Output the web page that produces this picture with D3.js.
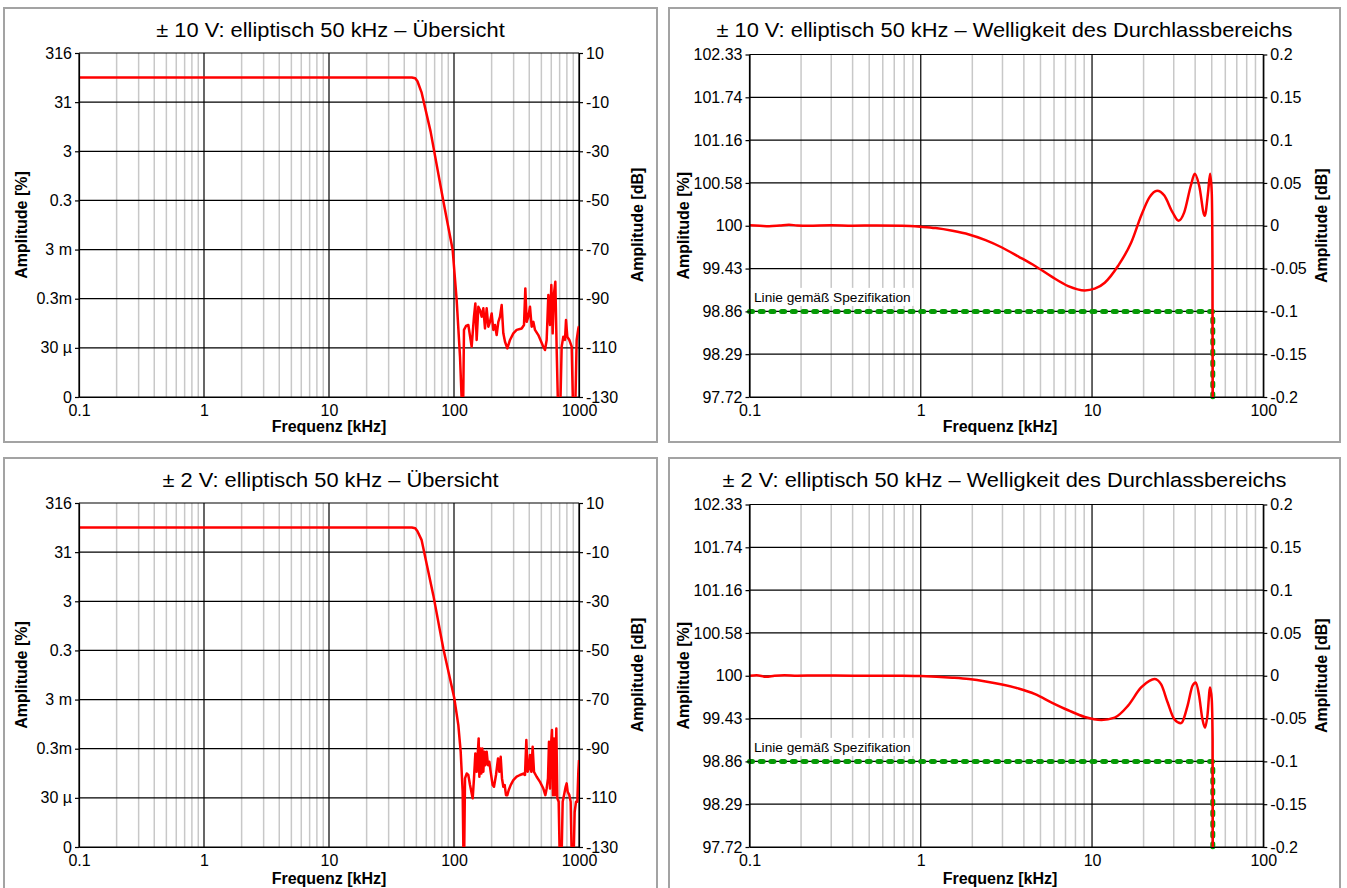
<!DOCTYPE html>
<html>
<head>
<meta charset="utf-8">
<script src="https://cdn.jsdelivr.net/npm/d3@7"></script>
<style>
  body { margin: 0; background: #fff; }
  svg { display: block; font-family: "Liberation Sans", Arial, sans-serif; }
</style>
</head>
<body>
<script>
// tick labels
const overviewFreqTicks = [0.1, 1, 10, 100, 1000]
const rippleFreqTicks = [0.1, 1, 10, 100]
const overviewDbTicks = [10, -10, -30, -50, -70, -90, -110, -130]
const overviewPctLabels = ['316', '31', '3', '0.3', '3 m', '0.3m', '30 µ', '0']
const rippleDbTicks = [0.2, 0.15, 0.1, 0.05, 0, -0.05, -0.1, -0.15, -0.2]
const ripplePctLabels = ['102.33', '101.74', '101.16', '100.58', '100', '99.43', '98.86', '98.29', '97.72']

// ±10 V overview (kHz / dB)
const freqOverview10 = [0.1, 46, 49, 51, 55, 65, 82, 97.6, 105, 111.7, 117, 118, 120.2, 124.7, 130.2, 138.4,
  144.5, 148.2, 151.8, 156.6, 161.4, 166.5, 171.7, 177, 182.5, 188.2, 194.1, 200.1, 206.4, 212.8, 219.4,
  226.3, 233.3, 240.6, 248.1, 255.9, 267.1, 280.5, 298.3, 317.1, 347.8, 363.1, 372.1, 381.4, 393.3, 405.5,
  418.1, 431.2, 444.6, 472.8, 518.4, 534.6, 551.2, 568.5, 586.1, 600.7, 615.6, 631, 646.7, 662.9, 683.6,
  704.7, 726.6, 749.3, 772.7, 787, 806.6, 837, 873.7, 901, 929, 958, 987.9, 1000]
const dbOverview10 = [0, 0, -0.3, -1.5, -6, -22, -50, -70.2, -90.5, -113.6, -140, -140, -102.7, -101.1, -100.7, -109.5,
  -97.3, -91.9, -106.8, -93.3, -94.6, -97.3, -93.9, -102.1, -93.9, -101.4, -99.4, -96, -102.7, -100.7, -104.8,
  -99.4, -97.3, -92.6, -104.1, -107.5, -110.2, -106.8, -104.1, -102.7, -102.1, -100.7, -85.8, -99.4, -97.3, -93.3,
  -101.4, -99.4, -102.7, -104.8, -109.5, -110.9, -106.8, -88.5, -100.7, -84.4, -104.1, -87.8, -83.1, -110.9, -140,
  -140, -109.5, -105.5, -106.8, -98.7, -105.5, -106.8, -109.5, -140, -140, -106.8, -102.1, -101.1]

// ±2 V overview (kHz / dB)
const freqOverview2 = [0.1, 46, 49, 51, 55, 68.3, 82.1, 100.6, 108.3, 113.1, 117.3, 119.5, 120.2, 122.5, 126.3,
  130.2, 134.3, 141.1, 144.5, 148.2, 151.8, 154.7, 157.5, 159.5, 162.4, 165.5, 168.5, 171.7, 174.9, 178.1,
  182.5, 187.1, 191.7, 196.5, 203.8, 208.9, 216.8, 224.9, 230.5, 236.3, 242.1, 248.1, 254.3, 260.6, 267.1,
  273.7, 284, 298.3, 317.1, 337.3, 358.6, 369.8, 379, 388.3, 398.1, 405.5, 415.6, 425.8, 436.5, 458.4, 487.5,
  518.4, 537.9, 551.2, 564.9, 575.4, 586.1, 597, 608.1, 619.4, 631, 642.7, 658.7, 670.9, 687.6, 704.7, 722.2,
  740.2, 758.6, 782.2, 796.8, 811.6, 837, 857.7, 879, 901, 923.3, 946.2, 969.8, 987.9, 1000]
const dbOverview2 = [0, 0, -0.3, -1.5, -5, -27.5, -49.2, -69.5, -80.4, -91.2, -107.5, -140, -140, -102.1, -100.1,
  -100.7, -104.8, -110.2, -102.1, -91.9, -99.4, -92.6, -85.8, -101.4, -89.9, -100.1, -89.9, -99.4, -91.2, -96.7,
  -91.2, -96.7, -95.3, -99.4, -104.8, -105.5, -100.7, -94, -99.4, -93.3, -102.1, -105.5, -104.8, -108.9, -108.9,
  -106.9, -104.8, -102.8, -101.4, -100.7, -100.1, -100.7, -86.5, -99.4, -98, -92.6, -99.4, -89.2, -99.4, -101.4, -103.5,
  -106.2, -108.9, -106.2, -102.1, -87.2, -106.2, -88.5, -82.4, -108.9, -85.8, -108.9, -81.8, -110.2, -111.6, -140, -140,
  -111.6, -108.9, -105.5, -104.1, -107.5, -108.9, -111.6, -140, -140, -115.7, -111.6, -111.6, -99.4, -94.6]

// ±10 V passband ripple (kHz / dB)
const freqRipple10 = [0.1, 0.115, 0.13, 0.15, 0.17, 0.19, 0.22, 0.3, 0.4, 0.55, 0.78, 1, 1.22, 1.53, 1.91, 2.39,
  2.98, 3.72, 4.65, 5.81, 7.26, 9.07, 10.37, 11.86, 14.17, 16.93, 19.35, 21.63, 23.97, 26.43, 29.54, 32.01,
  34.53, 37.76, 39.82, 42.2, 45.5, 47.6, 48.9, 50, 50.5, 50.8]
const dbRipple10 = [0.0005, 0, -0.0005, 0.0003, 0.0012, 0.0003, 0, 0.0005, 0.0001, 0.0003, 0, -0.0012, -0.0027, -0.0059,
  -0.0102, -0.0168, -0.0254, -0.036, -0.047, -0.0594, -0.0704, -0.0755, -0.0735, -0.0665, -0.047, -0.0196, 0.0117,
  0.0332, 0.041, 0.0352, 0.0156, 0.0059, 0.0156, 0.047, 0.0606, 0.047, 0.0117, 0.0391, 0.0606, 0.0391, -0.039, -0.3]

// ±2 V passband ripple (kHz / dB)
const freqRipple2 = [0.1, 0.11, 0.125, 0.14, 0.16, 0.19, 0.25, 0.4, 0.78, 1, 1.53, 1.91, 2.39, 2.98, 3.72, 4.65,
  5.81, 7.26, 9.07, 11.34, 13.55, 16.19, 19.35, 21.63, 23.13, 25.28, 27.64, 30.22, 33.03, 36.11, 38.6, 40.36,
  42.2, 44.12, 45.72, 47.17, 48.9, 50, 50.6, 50.8]
const dbRipple2 = [0, 0.0006, -0.0012, 0, 0.0006, 0, 0.0003, 0, 0, -0.0004, -0.0023, -0.0039, -0.0066, -0.0102,
  -0.0149, -0.0215, -0.0313, -0.0403, -0.0481, -0.0516, -0.0489, -0.0352, -0.0137, -0.0059, -0.0039, -0.0098,
  -0.0313, -0.0508, -0.0555, -0.0352, -0.0117, -0.0078, -0.0235, -0.0508, -0.0606, -0.0469, -0.0137, -0.0274,
  -0.0743, -0.3]

// specification line
const specFreq = [0.1, 50.7, 50.7]
const specDb = [-0.1, -0.1, -0.2]
const specLabel = 'Linie gemäß Spezifikation'

const panels = [
  { title: '± 10 V: elliptisch 50 kHz – Übersicht', box: [4, 8, 653, 434], plot: [79, 53, 579, 397],
    xMax: 1000, xTicks: overviewFreqTicks, dbTicks: overviewDbTicks, pct: overviewPctLabels,
    freq: freqOverview10, db: dbOverview10, spec: false, yLabelX: 21, xLabelX: 329, xLabelDy: 35 },
  { title: '± 10 V: elliptisch 50 kHz – Welligkeit des Durchlassbereichs', box: [669, 8, 671, 434], plot: [749.5, 54.5, 1263.3, 397],
    xMax: 100, xTicks: rippleFreqTicks, dbTicks: rippleDbTicks, pct: ripplePctLabels,
    freq: freqRipple10, db: dbRipple10, spec: true, yLabelX: 683, xLabelX: 1000, xLabelDy: 35 },
  { title: '± 2 V: elliptisch 50 kHz – Übersicht', box: [4, 458, 653, 434], plot: [79, 503, 579, 847],
    xMax: 1000, xTicks: overviewFreqTicks, dbTicks: overviewDbTicks, pct: overviewPctLabels,
    freq: freqOverview2, db: dbOverview2, spec: false, yLabelX: 21, xLabelX: 329, xLabelDy: 37 },
  { title: '± 2 V: elliptisch 50 kHz – Welligkeit des Durchlassbereichs', box: [669, 458, 671, 434], plot: [749.5, 504.5, 1263.3, 847],
    xMax: 100, xTicks: rippleFreqTicks, dbTicks: rippleDbTicks, pct: ripplePctLabels,
    freq: freqRipple2, db: dbRipple2, spec: true, yLabelX: 683, xLabelX: 1000, xLabelDy: 37 }
]

const width = 1347
const height = 888
const font = '"Liberation Sans", Arial, sans-serif'

const svg = d3.select('body').append('svg')
  .attr('width', width)
  .attr('height', height)

function isDecade(d) {
  const l = Math.log10(d)
  return Math.abs(l - Math.round(l)) < 1e-6
}

function drawPanel(p, idx) {
  const [bx, by, bw, bh] = p.box
  const [x0, y0, x1, y1] = p.plot
  const g = svg.append('g')

  g.append('rect')
    .attr('x', bx).attr('y', by).attr('width', bw).attr('height', bh)
    .attr('fill', '#fff').attr('stroke', '#a3a3a3').attr('stroke-width', 2)

  const x = d3.scaleLog().domain([0.1, p.xMax]).range([x0, x1])
  const y = d3.scaleLinear().domain([p.dbTicks[p.dbTicks.length - 1], p.dbTicks[0]]).range([y1, y0])

  // minor vertical grid
  g.append('g').selectAll('line')
    .data(x.ticks().filter(d => !isDecade(d)))
    .join('line')
    .attr('x1', d => x(d)).attr('x2', d => x(d))
    .attr('y1', y0).attr('y2', y1)
    .attr('stroke', '#c8c8c8').attr('stroke-width', 1.5)

  // major grid
  g.append('g').selectAll('line')
    .data(p.xTicks)
    .join('line')
    .attr('x1', d => x(d)).attr('x2', d => x(d))
    .attr('y1', y0).attr('y2', y1)
    .attr('stroke', '#000').attr('stroke-width', 1.2)
  g.append('g').selectAll('line')
    .data(p.dbTicks)
    .join('line')
    .attr('x1', x0).attr('x2', x1)
    .attr('y1', d => y(d)).attr('y2', d => y(d))
    .attr('stroke', '#000').attr('stroke-width', 1.2)

  const clipId = 'clip' + idx
  g.append('clipPath').attr('id', clipId)
    .append('rect').attr('x', x0).attr('y', y0).attr('width', x1 - x0).attr('height', y1 - y0)

  if (p.spec) {
    const ly = y(specDb[0])
    const lbl = g.append('text')
      .attr('x', x0 + 4.5).attr('y', ly - 9.5)
      .attr('font-size', 13.7).attr('fill', '#000')
      .text(specLabel)
    const bb = lbl.node().getBBox()
    g.insert('rect', () => lbl.node())
      .attr('x', x0 + 1).attr('y', bb.y - 2)
      .attr('width', bb.x + bb.width + 2 - x0).attr('height', bb.height + 3)
      .attr('fill', '#fff')

    const specLine = d3.line().x((d, i) => x(specFreq[i])).y(d => y(d))
    g.append('path')
      .attr('d', specLine(specDb))
      .attr('fill', 'none')
      .attr('stroke', '#069a06')
      .attr('stroke-width', 5)
      .attr('stroke-linecap', 'round')
      .attr('stroke-dasharray', '3,7.7')
  }

  const line = d3.line()
    .x((d, i) => x(p.freq[i]))
    .y(d => y(d))
    .curve(p.spec ? d3.curveMonotoneX : d3.curveLinear)
  g.append('path')
    .attr('clip-path', `url(#${clipId})`)
    .attr('d', line(p.db))
    .attr('fill', 'none')
    .attr('stroke', '#ff0000')
    .attr('stroke-width', 2.5)
    .attr('stroke-linejoin', 'round')

  // axes
  const left = g.append('g')
    .attr('transform', `translate(${x0},0)`)
    .call(d3.axisLeft(y).tickValues(p.dbTicks).tickFormat((d, i) => p.pct[i]).tickSize(4).tickSizeOuter(0))
  const right = g.append('g')
    .attr('transform', `translate(${x1},0)`)
    .call(d3.axisRight(y).tickValues(p.dbTicks).tickFormat(d => String(d)).tickSize(4).tickSizeOuter(0))
  const bottom = g.append('g')
    .attr('transform', `translate(0,${y1})`)
    .call(d3.axisBottom(x).tickValues(p.xTicks).tickFormat(d => String(d)).tickSize(0).tickPadding(8))
  for (const a of [left, right, bottom]) {
    a.attr('font-size', 16).attr('font-family', font)
    a.selectAll('path, line').attr('stroke', '#000').attr('stroke-width', 1.2)
    a.selectAll('text').attr('fill', '#000')
  }

  // titles
  g.append('text')
    .attr('transform', `translate(${bx + bw / 2},${by + 29}) scale(1.12,1)`)
    .attr('text-anchor', 'middle')
    .attr('font-size', 19.5)
    .attr('fill', '#000')
    .text(p.title)

  g.append('text')
    .attr('transform', `translate(${p.yLabelX},${(y0 + y1) / 2}) rotate(-90)`)
    .attr('dy', '0.35em')
    .attr('text-anchor', 'middle')
    .attr('font-size', 16).attr('font-weight', 'bold')
    .text('Amplitude [%]')
  g.append('text')
    .attr('transform', `translate(${x1 + 58},${(y0 + y1) / 2}) rotate(-90)`)
    .attr('dy', '0.35em')
    .attr('text-anchor', 'middle')
    .attr('font-size', 16).attr('font-weight', 'bold')
    .text('Amplitude [dB]')
  g.append('text')
    .attr('x', p.xLabelX).attr('y', y1 + p.xLabelDy)
    .attr('text-anchor', 'middle')
    .attr('font-size', 16).attr('font-weight', 'bold')
    .text('Frequenz [kHz]')
}

panels.forEach(drawPanel)
</script>
</body>
</html>
